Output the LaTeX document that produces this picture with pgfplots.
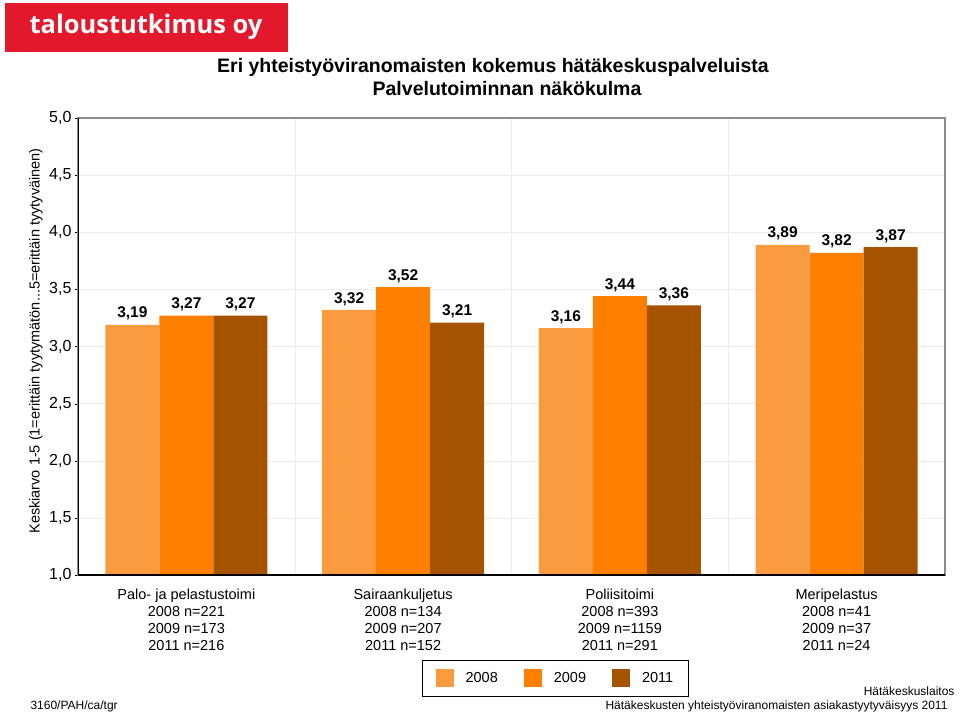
\documentclass[border=0pt]{standalone}
\usepackage{fontspec}
\setmainfont{Liberation Sans}
\newfontfamily\logofont{Open Sans}
\usepackage{pgfplots}
\pgfplotsset{compat=1.18}
\usepackage{pgfplotstable}

\definecolor{logored}{HTML}{E2192C}
\definecolor{c2008}{HTML}{F99B3E}
\definecolor{c2009}{HTML}{FF7F00}
\definecolor{c2011}{HTML}{A65300}

\pgfplotstableread{
x  y2008 y2009 y2011
0  3.19  3.27  3.27
1  3.32  3.52  3.21
2  3.16  3.44  3.36
3  3.89  3.82  3.87
}\ratings

\begin{document}
\begin{tikzpicture}[x=1pt,y=1pt]
\useasboundingbox (0,0) rectangle (960,716);

% logo
\fill[logored] (5,664) rectangle (288,713);
\node[white,font=\logofont\bfseries\fontsize{25.5}{28}\selectfont] at (146,689) {taloustutkimus oy};

% title
\node[font=\bfseries\fontsize{19.5}{22}\selectfont] at (493,649) {Eri yhteistyöviranomaisten kokemus hätäkeskuspalveluista};
\node[font=\bfseries\fontsize{19.5}{22}\selectfont] at (507,627) {Palvelutoiminnan näkökulma};

% y label
\node[rotate=90,font=\fontsize{14.5}{17}\selectfont] at (36,375) {Keskiarvo 1-5 (1=erittäin tyytymätön...5=erittäin tyytyväinen)};

\begin{axis}[
  at={(78pt,141pt)}, anchor=south west,
  scale only axis, width=867pt, height=457pt,
  ybar=0pt, bar width=54pt,
  xmin=-0.5, xmax=3.5, ymin=1, ymax=5,
  ytick={1,1.5,...,5},
  ytick pos=left,
  xtick=data,
  xticklabels={
    {Palo- ja pelastustoimi\\2008 n=221\\2009 n=173\\2011 n=216},
    {Sairaankuljetus\\2008 n=134\\2009 n=207\\2011 n=152},
    {Poliisitoimi\\2008 n=393\\2009 n=1159\\2011 n=291},
    {Meripelastus\\2008 n=41\\2009 n=37\\2011 n=24}},
  xticklabel style={align=center,font=\fontsize{14.5}{17}\selectfont,yshift=-7pt},
  yticklabel style={font=\fontsize{16}{18}\selectfont},
  /pgf/number format/assume math mode=true,
  /pgf/number format/use comma,
  /pgf/number format/fixed,
  /pgf/number format/fixed zerofill,
  /pgf/number format/precision=1,
  minor xtick={0.5,1.5,2.5},
  xminorgrids, ymajorgrids,
  grid style={draw=black!8},
  minor grid style={draw=black!8},
  xtick style={draw=none},
  minor tick length=0pt,
  tick align=outside, major tick length=3pt,
  ytick style={black},
  axis line style={draw=black!45, line width=1.2pt},
  nodes near coords,
  every node near coord/.append style={font=\bfseries\fontsize{15.5}{18}\selectfont,
    /pgf/number format/precision=2, yshift=1pt},
  legend style={at={(axis description cs:0.397,-0.186)}, anchor=north west,
    legend columns=3, draw=black, line width=0.8pt,
    font=\fontsize{14.5}{17}\selectfont,
    inner xsep=13pt, inner ysep=9pt,
    /tikz/every odd column/.append style={column sep=10pt},
    /tikz/every even column/.append style={column sep=24pt}},
  legend image code/.code={\fill[#1] (0pt,-9pt) rectangle (18pt,9pt);},
]
\addplot[draw=none, fill=c2008] table[x=x,y=y2008] {\ratings};
\addplot[draw=none, fill=c2009] table[x=x,y=y2009] {\ratings};
\addplot[draw=none, fill=c2011] table[x=x,y=y2011] {\ratings};
\legend{2008,2009,2011}
\draw[black, line width=1.2pt] (rel axis cs:0,1) -- (rel axis cs:0,0) -- (rel axis cs:1,0);
\end{axis}

% footers
\node[anchor=west,font=\fontsize{12}{14}\selectfont] at (27,10) {3160/PAH/ca/tgr};
\node[anchor=east,font=\fontsize{12}{14}\selectfont] at (958,25) {Hätäkeskuslaitos};
\node[anchor=east,font=\fontsize{12}{14}\selectfont] at (951,10) {Hätäkeskusten yhteistyöviranomaisten asiakastyytyväisyys 2011};
\end{tikzpicture}
\end{document}
